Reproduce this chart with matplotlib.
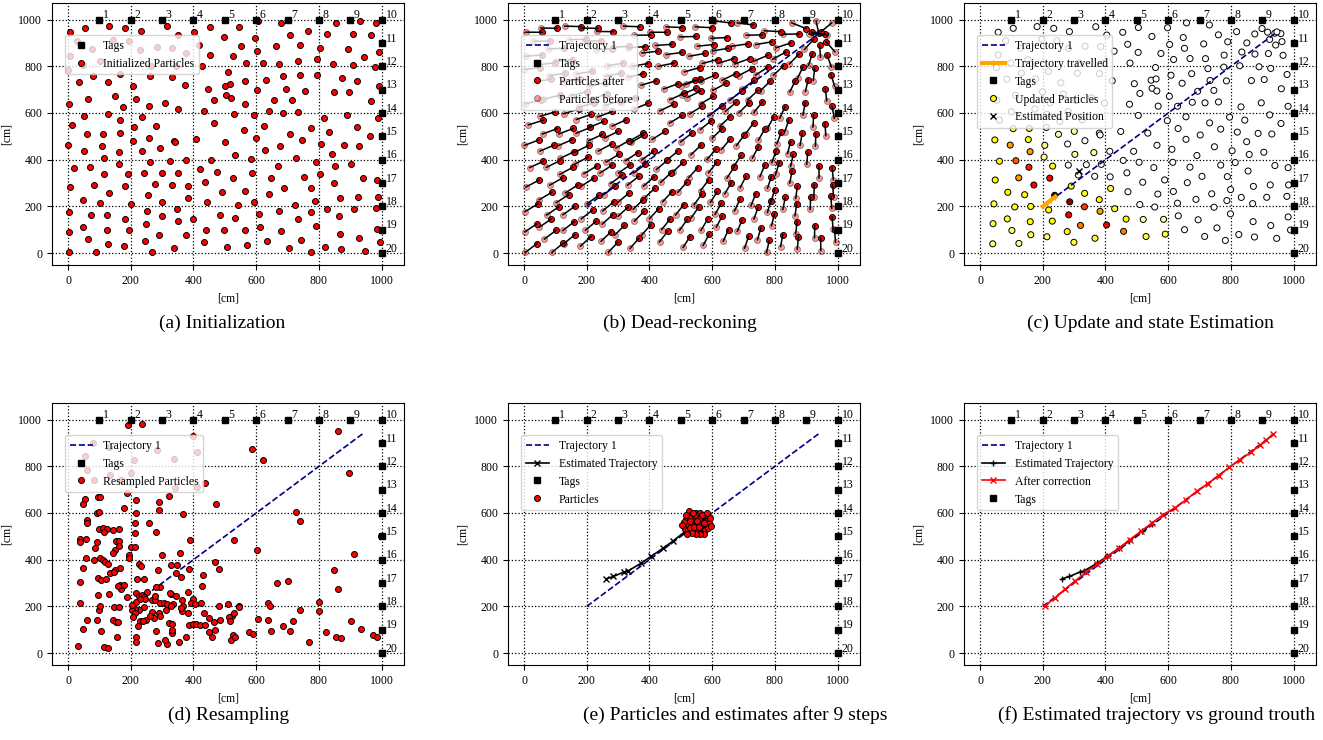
import numpy as np
import matplotlib
import matplotlib.pyplot as plt

matplotlib.use('Agg')
plt.rcParams['font.family'] = 'serif'
plt.rcParams['font.serif'] = ['Liberation Serif', 'DejaVu Serif']
plt.rcParams['font.size'] = 8.5

# RFID tags along top and right wall [cm]
tags_x = [100, 200, 300, 400, 500, 600, 700, 800, 900, 1000,
          1000, 1000, 1000, 1000, 1000, 1000, 1000, 1000, 1000, 1000]
tags_y = [1000, 1000, 1000, 1000, 1000, 1000, 1000, 1000, 1000, 1000,
          900, 800, 700, 600, 500, 400, 300, 200, 100, 0]

# Ground truth trajectory 1
traj_x = [200, 940]
traj_y = [200, 940]

# Initialized particles
init_xy = [
    (6, 946), (54, 964), (130, 972), (183, 964), (233, 949), (317, 972), (352, 933), (403, 946), (453, 969), (496, 926),
    (30, 907), (6, 843), (77, 874), (1, 786), (47, 807), (145, 914), (101, 821), (193, 907), (230, 871), (283, 881),
    (333, 879), (376, 857), (344, 800), (266, 803), (419, 889),
    (428, 800), (453, 850), (35, 733), (81, 760), (127, 733), (167, 767), (208, 714), (260, 757), (331, 753), (373, 719),
    (445, 703), (499, 717),
    (64, 660), (4, 639), (150, 674), (175, 624), (217, 662), (258, 632), (308, 643), (351, 617), (433, 609), (465, 657),
    (504, 679),
    (52, 586), (127, 597), (167, 572), (235, 583), (14, 549), (59, 510), (111, 510), (166, 513), (209, 539), (257, 493),
    (281, 544), (339, 482), (409, 487), (464, 557), (499, 476),
    (1, 461), (51, 437), (109, 460), (163, 433), (206, 481), (237, 437), (293, 450), (342, 474),
    (116, 406), (162, 381), (18, 366), (71, 367), (114, 337), (191, 340), (262, 390), (324, 396), (376, 400), (455, 397),
    (242, 343), (301, 343), (350, 343), (422, 358), (475, 348),
    (6, 283), (82, 291), (132, 258), (183, 287), (48, 228), (103, 216), (201, 211), (254, 250), (276, 298), (330, 291),
    (381, 287), (384, 236), (299, 217), (436, 303), (490, 260), (442, 220),
    (4, 178), (72, 163), (124, 164), (183, 147), (251, 181), (300, 158), (348, 188), (400, 147), (352, 137), (483, 163),
    (3, 91), (49, 111), (124, 97), (196, 98), (249, 124), (289, 77), (375, 77), (65, 60), (127, 40), (180, 30),
    (246, 51), (439, 101), (496, 98), (432, 48), (338, 20), (507, 24), (4, 3), (89, 3), (269, 4),
    (546, 969), (607, 994), (680, 986), (766, 952), (708, 933), (853, 986), (824, 937), (907, 940), (931, 993), (981, 986),
    (967, 933),
    (553, 886), (596, 920), (601, 866), (526, 843), (662, 886), (739, 893), (803, 879), (894, 872), (945, 839), (991, 862),
    (568, 812), (621, 814), (672, 810), (733, 822), (793, 830), (846, 810), (907, 804), (980, 797),
    (511, 776), (515, 722), (563, 737), (631, 740), (684, 760), (738, 762), (795, 762), (872, 749), (922, 739), (990, 714),
    (520, 666), (602, 697), (696, 703), (754, 696), (657, 656), (713, 656), (847, 690), (897, 692), (965, 652),
    (563, 639), (642, 607), (528, 596), (593, 592), (686, 602), (733, 603), (815, 577), (889, 592), (989, 577),
    (562, 529), (624, 543), (707, 512), (776, 534), (831, 519), (921, 540), (962, 503), (600, 492), (747, 483),
    (677, 460), (806, 468), (880, 461), (929, 458), (629, 443), (532, 421), (583, 401), (728, 407), (790, 388), (840, 426),
    (901, 380), (669, 371), (850, 371),
    (588, 344), (525, 323), (647, 321), (752, 327), (802, 337), (847, 300), (940, 323), (986, 314),
    (563, 268), (640, 254), (689, 280), (776, 277), (788, 221), (866, 234), (924, 240), (987, 240), (981, 191),
    (542, 207), (594, 217), (724, 204), (825, 187), (912, 187), (671, 181), (776, 174),
    (533, 151), (609, 166), (733, 146), (864, 160),
    (564, 97), (613, 111), (680, 93), (789, 117), (866, 83), (926, 66), (985, 103), (635, 51), (744, 57),
    (571, 33), (703, 21), (773, 3), (818, 28), (871, 17), (946, 11), (993, 47),
]

# Dead-reckoning step: every particle moves this far towards the heading point
dr_step = 52
heading_x, heading_y = 940, 940

# Particle weights after the update: x, y, weight
weight_xyw = [
    (104, 536, 0.25), (154, 534, 0.25), (210, 539, 0.12), (46, 483, 0.25), (94, 461, 0.4), (152, 486, 0.25),
    (159, 433, 0.4), (203, 460, 0.12), (60, 391, 0.25), (112, 396, 0.5), (153, 366, 0.6), (203, 411, 0.12),
    (230, 370, 0.25), (48, 311, 0.25), (120, 320, 0.4), (170, 290, 0.65), (221, 319, 0.65), (85, 260, 0.25),
    (140, 249, 0.25), (40, 210, 0.2), (109, 197, 0.2), (159, 200, 0.25), (241, 246, 0.95), (285, 219, 0.8),
    (333, 197, 0.55), (332, 254, 0.25), (290, 283, 0.25), (281, 164, 0.65), (214, 183, 0.25), (230, 136, 0.25),
    (320, 119, 0.45), (380, 217, 0.25), (381, 176, 0.4), (404, 119, 0.65), (458, 93, 0.45), (418, 190, 0.2),
    (464, 143, 0.25), (39, 124, 0.2), (87, 146, 0.2), (156, 133, 0.25), (99, 93, 0.15), (158, 77, 0.2),
    (213, 69, 0.15), (276, 90, 0.25), (37, 36, 0.15), (124, 39, 0.12), (299, 43, 0.2), (365, 61, 0.2),
    (413, 276, 0.2), (383, 429, 0.1), (248, 507, 0.08), (297, 519, 0.1), (276, 421, 0.1), (519, 140, 0.1),
    (530, 69, 0.2), (590, 77, 0.2), (583, 140, 0.1),
]
travelled_x = [200, 213, 226, 240]
travelled_y = [200, 213, 227, 242]
est_pos = (317, 350)

# Resampled particles
resampled_xy = [
    (191, 977), (235, 982), (397, 931), (860, 951), (585, 873), (622, 829), (895, 771), (438, 727), (410, 710), (340, 705),
    (81, 900), (54, 843), (132, 882), (209, 826), (283, 869), (338, 832), (411, 860), (60, 782), (83, 743), (134, 764),
    (168, 743), (201, 772),
    (188, 685), (321, 674), (290, 648), (218, 655), (97, 668), (102, 669), (54, 660), (49, 637), (472, 637), (726, 605),
    (738, 564), (92, 601), (100, 603), (216, 600), (289, 614), (367, 596), (177, 620),
    (62, 571), (62, 557), (257, 557), (213, 557), (100, 531), (110, 537), (124, 531), (115, 517), (144, 526), (162, 531),
    (214, 514), (279, 517), (530, 483), (997, 503),
    (38, 489), (38, 474), (58, 489), (91, 474), (154, 481), (163, 479), (389, 486),
    (87, 449), (162, 457), (151, 440), (200, 456), (212, 456), (145, 427), (194, 420), (196, 407), (102, 409), (113, 400),
    (84, 400), (58, 407), (300, 420), (357, 430), (468, 390), (912, 426), (604, 443),
    (47, 364), (118, 389), (126, 380), (167, 364), (226, 383), (233, 371), (134, 343), (97, 321), (104, 313), (121, 317),
    (149, 357), (147, 346), (241, 317), (219, 317), (328, 379), (347, 376), (387, 360), (480, 360), (430, 336), (343, 343),
    (360, 326), (288, 357), (292, 283), (282, 283), (39, 303), (95, 247), (131, 253), (168, 276), (165, 293), (177, 293),
    (158, 286), (427, 289), (383, 260), (328, 253), (343, 246), (666, 300), (701, 307), (862, 274), (848, 357),
    (217, 257), (225, 243), (235, 250), (243, 240), (246, 231), (228, 231), (251, 260), (267, 229), (277, 229), (292, 214),
    (307, 214), (315, 210), (336, 211), (363, 229), (366, 200), (397, 233), (393, 214), (425, 214), (435, 171), (384, 171),
    (363, 181), (361, 193), (241, 197), (226, 183), (215, 190), (203, 186), (212, 171), (206, 154), (217, 217), (203, 207),
    (148, 197), (162, 197), (99, 186), (102, 200), (38, 214), (187, 240), (276, 243), (324, 257), (404, 211), (289, 171),
    (294, 157), (268, 176), (275, 150), (248, 143), (229, 136), (222, 114), (239, 139), (260, 160), (312, 186), (328, 200),
    (480, 200), (509, 209), (546, 200), (639, 214), (644, 203), (801, 217), (801, 179), (741, 186), (606, 146), (637, 143),
    (716, 136), (685, 114), (646, 94), (707, 94), (822, 90), (853, 71), (871, 64), (935, 103), (901, 136), (973, 79),
    (984, 69), (767, 46), (577, 90), (590, 81), (523, 157), (528, 171),
    (59, 143), (94, 143), (145, 143), (152, 133), (160, 133), (105, 93), (48, 103), (31, 31), (116, 24), (129, 21),
    (157, 67), (218, 71), (216, 47), (281, 93), (286, 43), (315, 39), (309, 54), (333, 86), (321, 129), (330, 126),
    (333, 100), (355, 47), (377, 69), (387, 119), (400, 126), (409, 126), (422, 121), (436, 119), (450, 149), (464, 133),
    (450, 89), (460, 71), (470, 97), (483, 143), (525, 77), (520, 54), (531, 71), (514, 154), (516, 136), (544, 197),
]

# Particles after 9 steps
final_xy = [
    (515, 575), (525, 610), (532, 590), (540, 570), (548, 600), (555, 585), (562, 600), (570, 575), (578, 590), (585, 570),
    (590, 555), (580, 545), (572, 560), (560, 565), (552, 545), (545, 555), (535, 548), (525, 560), (518, 545), (512, 530),
    (522, 525), (530, 535), (540, 520), (550, 530), (560, 520), (568, 535), (578, 525), (588, 535), (575, 510), (562, 508),
    (548, 512), (535, 515), (520, 512), (528, 580), (545, 590), (558, 575), (568, 592), (510, 560), (592, 580), (583, 600),
    (538, 600), (552, 565), (565, 550), (575, 555), (542, 538), (557, 538), (530, 565), (517, 590), (595, 545), (505, 548),
]

# Estimated trajectory and corrected trajectory
est_x = [262, 285, 318, 332, 372, 405, 442, 476, 515, 548]
est_y = [318, 328, 347, 352, 384, 414, 448, 481, 522, 553]
corr_x = [207, 240, 271, 304, 338, 373, 409, 444, 477, 513, 548, 584, 621, 657, 691, 726, 761, 795, 829, 864, 891,
          912, 933]
corr_y = [203, 237, 274, 310, 346, 381, 417, 450, 486, 521, 557, 593, 622, 657, 693, 726, 760, 796, 829, 860, 890,
          911, 938]

captions = ['(a) Initialization', '(b) Dead-reckoning', '(c) Update and state Estimation',
            '(d) Resampling', '(e) Particles and estimates after 9 steps',
            '(f) Estimated trajectory vs ground trouth']

W, H = 1323, 740
fig = plt.figure(figsize=(W / 100, H / 100), dpi=100)


def make_axes(left, top):
    ax = fig.add_axes([left / W, 1 - (top + 262) / H, 352 / W, 262 / H])
    ax.set_xlim(-51, 1071)
    ax.set_ylim(-51, 1071)
    ax.set_xticks(range(0, 1001, 200))
    ax.set_yticks(range(0, 1001, 200))
    ax.grid(True, color='k', linestyle=':', linewidth=0.9)
    ax.set_axisbelow(True)
    ax.set_xlabel('[cm]')
    ax.set_ylabel('[cm]')
    return ax


def draw_tags(ax):
    ax.plot(tags_x, tags_y, 'ks', ms=4.5, label='Tags', zorder=6)
    for i, (x, y) in enumerate(zip(tags_x, tags_y)):
        ax.text(x + 12, y + 6, str(i + 1), zorder=7)


def add_legend(ax):
    ax.legend(loc='upper left', bbox_to_anchor=(0.02, 0.9), fontsize=8.5)


px = dict(ls='none', marker='o', ms=4.3, mfc='red', mec='k', mew=0.7)

bx, by = np.array(init_xy, dtype=float).T
dx, dy = heading_x - bx, heading_y - by
dist = np.hypot(dx, dy)
dist[dist == 0] = 1
ax_after = bx + dr_step * dx / dist
ay_after = by + dr_step * dy / dist

# (a) Initialization
ax = make_axes(52, 3)
draw_tags(ax)
ax.plot(bx, by, label='Initialized Particles', zorder=4, **px)
add_legend(ax)

# (b) Dead-reckoning
ax = make_axes(508, 3)
ax.plot(traj_x, traj_y, '--', color='navy', lw=1.2, label='Trajectory 1', zorder=8)
draw_tags(ax)
ax.plot(ax_after, ay_after, label='Particles after', zorder=4, **px)
ax.plot(bx, by, label='Particles before', alpha=0.4, zorder=3, **px)
for i in range(len(bx)):
    ax.plot([bx[i], ax_after[i]], [by[i], ay_after[i]], 'k-', lw=1.1, zorder=5)
add_legend(ax)

# (c) Update and state estimation
weights = np.zeros(len(bx))
for hx, hy, hw in weight_xyw:
    d = np.hypot(ax_after - hx, ay_after - hy)
    j = d.argmin()
    if d[j] < 35:
        weights[j] = hw

ax = make_axes(964, 3)
ax.plot(traj_x, traj_y, '--', color='navy', lw=1.2, label='Trajectory 1', zorder=8)
ax.plot(travelled_x, travelled_y, color='orange', lw=3, marker='|', ms=4, label='Trajectory travelled', zorder=9)
draw_tags(ax)
ax.scatter(ax_after, ay_after, c=weights, cmap='hot_r', vmin=0, vmax=1, s=19, edgecolors='k',
           linewidths=0.7, zorder=4)
ax.plot([], [], ls='none', marker='o', ms=4.3, mfc='yellow', mec='k', mew=0.7, label='Updated Particles')
ax.plot(est_pos[0], est_pos[1], 'kx', ms=5, label='Estimated Position', zorder=10)
add_legend(ax)

# (d) Resampling
rx, ry = np.array(resampled_xy, dtype=float).T
ax = make_axes(52, 403)
ax.plot(traj_x, traj_y, '--', color='navy', lw=1.2, label='Trajectory 1', zorder=3)
draw_tags(ax)
ax.plot(rx, ry, label='Resampled Particles', zorder=4, **px)
add_legend(ax)

# (e) Particles and estimates after 9 steps
fx, fy = np.array(final_xy, dtype=float).T
ax = make_axes(508, 403)
ax.plot(traj_x, traj_y, '--', color='navy', lw=1.2, label='Trajectory 1', zorder=3)
ax.plot(est_x, est_y, 'k-', marker='x', ms=4, lw=1.2, label='Estimated Trajectory', zorder=4)
draw_tags(ax)
ax.plot(fx, fy, label='Particles', zorder=5, **px)
add_legend(ax)

# (f) Estimated trajectory vs ground truth
ax = make_axes(964, 403)
ax.plot(traj_x, traj_y, '--', color='navy', lw=1.2, label='Trajectory 1', zorder=3)
ax.plot(est_x, est_y, 'k-', marker='+', ms=5, lw=1.2, label='Estimated Trajectory', zorder=4)
ax.plot(corr_x, corr_y, 'r-', marker='x', ms=5, lw=1.2, label='After correction', zorder=5)
draw_tags(ax)
add_legend(ax)

# Sub-figure captions
cap_x = [222, 680, 1150, 229, 735, 1157]
cap_y = [323, 323, 323, 715, 715, 715]
for cx, cy, text in zip(cap_x, cap_y, captions):
    fig.text(cx / W, 1 - cy / H, text, ha='center', va='center', fontsize=14)

fig.savefig('out.png', dpi=100)
